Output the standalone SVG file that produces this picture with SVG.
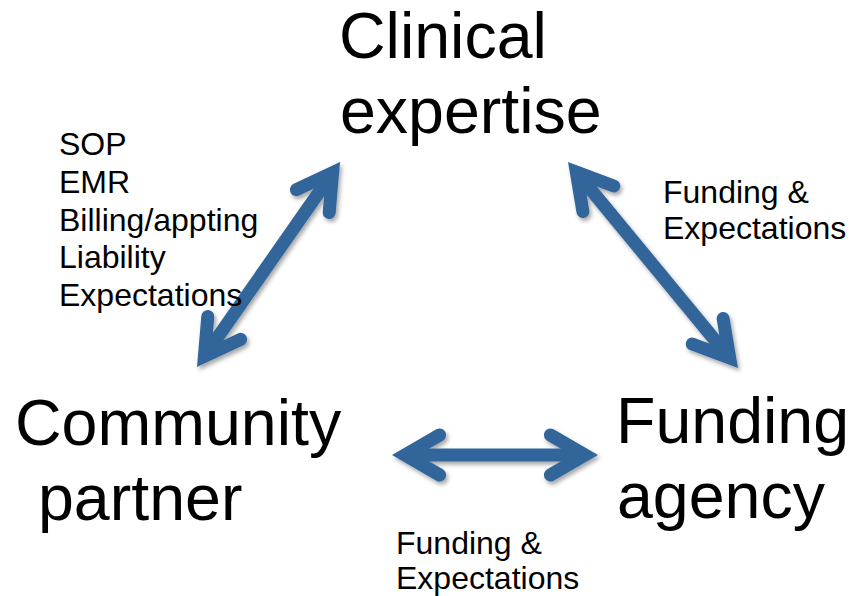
<svg xmlns="http://www.w3.org/2000/svg" width="863" height="596" viewBox="0 0 863 596">
<style>
.big{font-family:"Liberation Sans",Arial,sans-serif;font-size:64.5px;fill:#000}
.sm{font-family:"Liberation Sans",Arial,sans-serif;font-size:32px;fill:#000}
.arr{fill:none;stroke:#33669A;stroke-width:13;stroke-linecap:round;stroke-linejoin:miter;stroke-miterlimit:4}
.shaft{fill:none;stroke:#33669A;stroke-width:13;stroke-linecap:butt}
</style>
<defs>
<filter id="sh" x="-20%" y="-20%" width="140%" height="140%">
<feDropShadow dx="2" dy="3" stdDeviation="2" flood-color="#000" flood-opacity="0.35"/>
</filter>
</defs>
<rect width="863" height="596" fill="#fff"/>
<g id="connectors" filter="url(#sh)">
<g id="arrow-clinical-community">
<line class="shaft" x1="332.6" y1="172.7" x2="204.4" y2="356.3"/>
<path class="arr" d="M296.4,189.7 L332.6,172.7 L329.2,212.5"/>
<path class="arr" d="M240.6,339.3 L204.4,356.3 L207.8,316.5"/>
</g>
<g id="arrow-clinical-funding">
<line class="shaft" x1="576.3" y1="172" x2="729.7" y2="358"/>
<path class="arr" d="M582.9,211.5 L576.3,172 L613.8,186"/>
<path class="arr" d="M723.1,318.5 L729.7,358 L692.2,344"/>
</g>
<g id="arrow-community-funding">
<line class="shaft" x1="405" y1="455" x2="585" y2="455"/>
<path class="arr" d="M439.6,435 L405,455 L439.6,475"/>
<path class="arr" d="M550.4,435 L585,455 L550.4,475"/>
</g>
</g>
<g id="clinical-expertise">
<text class="big" x="339" y="58">Clinical</text>
<text class="big" x="340" y="133">expertise</text>
</g>
<g id="community-partner">
<text class="big" x="15" y="445">Community</text>
<text class="big" x="38" y="520">partner</text>
</g>
<g id="funding-agency">
<text class="big" x="616" y="443">Funding</text>
<text class="big" x="617" y="518">agency</text>
</g>
<g id="label-left">
<text class="sm" x="59" y="155">SOP</text>
<text class="sm" x="59" y="193">EMR</text>
<text class="sm" x="59" y="231">Billing/appting</text>
<text class="sm" x="59" y="268">Liability</text>
<text class="sm" x="59" y="306">Expectations</text>
</g>
<g id="label-right">
<text class="sm" x="663" y="203">Funding &amp;</text>
<text class="sm" x="663" y="239">Expectations</text>
</g>
<g id="label-bottom">
<text class="sm" x="396" y="554">Funding &amp;</text>
<text class="sm" x="396" y="589">Expectations</text>
</g>
</svg>
